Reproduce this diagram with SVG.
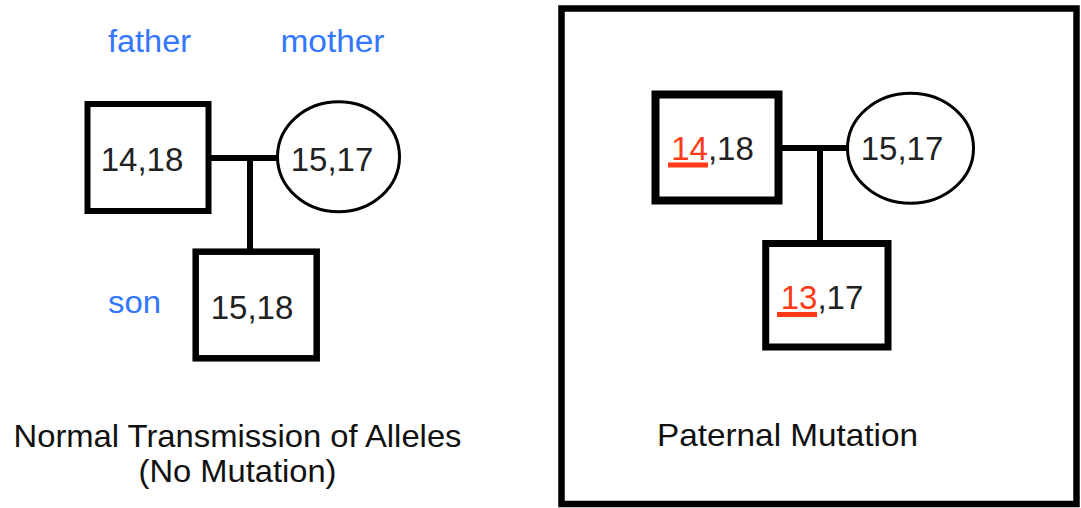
<svg xmlns="http://www.w3.org/2000/svg" width="1081" height="508" viewBox="0 0 1081 508">
  <style>
    .male { fill: #ffffff; stroke: #000000; }
    .female { fill: #ffffff; stroke: #000000; stroke-width: 3; }
    .link { stroke: #000000; stroke-width: 6; fill: none; }
    .allele { font-family: "Liberation Sans", Arial, sans-serif; font-size: 33px; fill: #222222; text-anchor: middle; }
    .mut { fill: #ff3a14; }
    .mutline { stroke: #ff3a14; stroke-width: 5; }
    .role { font-family: "Liberation Sans", Arial, sans-serif; font-size: 31px; fill: #3377ff; }
    .caption { font-family: "Liberation Sans", Arial, sans-serif; font-size: 32px; fill: #111111; }
  </style>
  <rect width="1081" height="508" fill="#ffffff"/>

  <!-- left pedigree: normal transmission -->
  <g id="connectors-left">
    <line class="link" x1="210" y1="158" x2="277" y2="158"/>
    <line class="link" x1="250" y1="158" x2="250" y2="250"/>
  </g>
  <g id="father-left">
    <rect class="male" x="87.5" y="104" width="121" height="107" stroke-width="6"/>
    <text class="allele" x="142" y="171">14,18</text>
  </g>
  <g id="mother-left">
    <ellipse class="female" cx="338.5" cy="156.8" rx="61" ry="55"/>
    <text class="allele" x="332" y="171">15,17</text>
  </g>
  <g id="son-left">
    <rect class="male" x="195.7" y="251.7" width="121" height="106.6" stroke-width="6.5"/>
    <text class="allele" x="252" y="319">15,18</text>
  </g>
  <g id="labels-left">
    <text class="role" x="108" y="51.5" textLength="83" lengthAdjust="spacingAndGlyphs">father</text>
    <text class="role" x="280.5" y="51.5" textLength="104" lengthAdjust="spacingAndGlyphs">mother</text>
    <text class="role" x="108" y="313" textLength="53" lengthAdjust="spacingAndGlyphs">son</text>
    <text class="caption" x="13.5" y="446.5" textLength="448" lengthAdjust="spacingAndGlyphs">Normal Transmission of Alleles</text>
    <text class="caption" x="138.5" y="482" textLength="198" lengthAdjust="spacingAndGlyphs">(No Mutation)</text>
  </g>

  <!-- right panel: paternal mutation -->
  <g id="frame">
    <rect x="561.5" y="8.5" width="515" height="495.5" fill="none" stroke="#000000" stroke-width="6.5"/>
  </g>
  <g id="connectors-right">
    <line class="link" x1="782" y1="148" x2="849" y2="148"/>
    <line class="link" x1="820" y1="148" x2="820" y2="244"/>
  </g>
  <g id="father-right">
    <rect class="male" x="655.5" y="94.5" width="123" height="106" stroke-width="8"/>
    <text class="allele" x="712.5" y="160"><tspan class="mut">14</tspan>,18</text>
    <line class="mutline" x1="668" y1="165" x2="708" y2="165"/>
  </g>
  <g id="mother-right">
    <ellipse class="female" cx="910.5" cy="148.3" rx="63" ry="55"/>
    <text class="allele" x="902" y="160">15,17</text>
  </g>
  <g id="son-right">
    <rect class="male" x="765.7" y="243.5" width="122.3" height="103.5" stroke-width="7"/>
    <text class="allele" x="822" y="308.5"><tspan class="mut">13</tspan>,17</text>
    <line class="mutline" x1="777" y1="314.5" x2="817" y2="314.5"/>
  </g>
  <g id="labels-right">
    <text class="caption" x="657" y="446" textLength="261" lengthAdjust="spacingAndGlyphs">Paternal Mutation</text>
  </g>
</svg>
